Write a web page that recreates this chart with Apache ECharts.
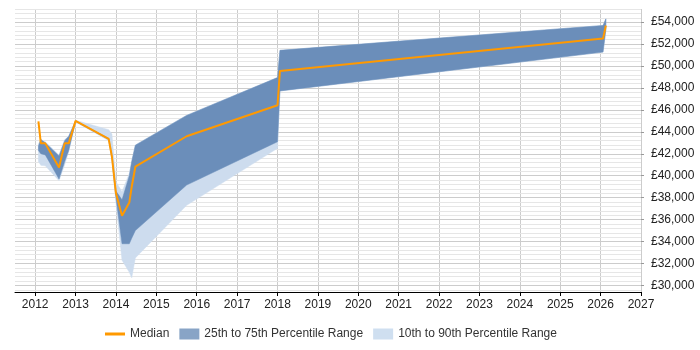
<!DOCTYPE html>
<html>
<head>
<meta charset="utf-8">
<script src="https://cdn.jsdelivr.net/npm/echarts@6.0.0/dist/echarts.min.js"></script>
<style>
  html, body { margin: 0; padding: 0; background: #fff; }
  #chart { width: 700px; height: 350px; }
</style>
</head>
<body>
<div id="chart"></div>
<script>
// decimal years of each sample
var years = [2012.08, 2012.14, 2012.25, 2012.59, 2012.73, 2012.83, 2013.0, 2013.82, 2013.9, 2014.0,
  2014.15, 2014.33, 2014.39, 2014.48, 2015.75, 2018.0, 2018.06, 2026.06, 2026.13];
var median = [44950, 42950, 42950, 40750, 42950, 42950, 45000, 43360, 41730, 38400,
  36350, 37550, 39000, 40820, 43600, 46430, 49550, 52500, 53700];
var p25 = [42300, 42000, 41900, 39700, 41300, 42300, 44950, 43300, 41600, 38000,
  33800, 33800, 34300, 35000, 39150, 43100, 47730, 51270, 53300];
var p75 = [42700, 43300, 43000, 41800, 43200, 43600, 45000, 43400, 41900, 38600,
  37800, 40000, 41300, 42790, 45500, 48950, 51430, 53700, 54300];
var p10 = [41300, 40950, 40900, 39550, 41000, 42200, 44900, 43200, 41500, 37500,
  32300, 31200, 30700, 32500, 37300, 42500, 47730, 51270, 53300];
var p90 = [42900, 43300, 43100, 41900, 43300, 43600, 45050, 44200, 43800, 39450,
  38550, 40200, 41300, 42790, 45500, 48950, 51430, 53700, 54300];

var yearTicks = [2012, 2013, 2014, 2015, 2016, 2017, 2018, 2019, 2020, 2021, 2022, 2023, 2024, 2025, 2026, 2027];
var salaryTicks = [30000, 32000, 34000, 36000, 38000, 40000, 42000, 44000, 46000, 48000, 50000, 52000, 54000];
var minorTicks = [];
for (var v = 29600; v <= 55200; v += 400) {
  if (v % 2000 !== 0) minorTicks.push(v);
}

var font = '"Liberation Sans", Arial, sans-serif';
var orange = '#ff9900';
var dark = '#6b8eba';
var light = '#cddcee';

function money(v) {
  return '£' + String(v).replace(/\B(?=(\d{3})+(?!\d))/g, ',');
}

function band(name, lo, hi, color) {
  return {
    name: name,
    type: 'custom',
    silent: true,
    clip: true,
    itemStyle: { color: color },
    data: years.map(function(x, i) { return [x, lo[i], hi[i]]; }),
    encode: { x: 0, y: [1, 2] },
    renderItem: function(params, api) {
      if (params.dataIndex !== 0) return null;
      var top = years.map(function(x, i) { return api.coord([x, hi[i]]); });
      var bottom = years.map(function(x, i) { return api.coord([x, lo[i]]); }).reverse();
      return {
        type: 'polygon',
        shape: { points: top.concat(bottom) },
        style: { fill: color, stroke: color, lineWidth: 0.5 }
      };
    }
  };
}

var chart = echarts.init(document.getElementById('chart'), null, { renderer: 'canvas' });
chart.setOption({
  animation: false,
  textStyle: { fontFamily: font },
  grid: { left: 15, right: 59, top: 9, bottom: 58 },
  legend: {
    left: 100,
    top: 323,
    itemWidth: 20,
    itemHeight: 11,
    itemGap: 10,
    textStyle: { fontFamily: font, fontSize: 12, color: '#333' },
    data: [
      { name: 'Median', icon: 'path://M0,0L20,0L20,3L0,3Z', itemStyle: { color: orange } },
      { name: '25th to 75th Percentile Range', icon: 'rect', itemStyle: { color: '#88a4c6' } },
      { name: '10th to 90th Percentile Range', icon: 'rect', itemStyle: { color: '#cfdff0' } }
    ]
  },
  xAxis: {
    type: 'value',
    min: 2011.5,
    max: 2027,
    axisLine: { lineStyle: { color: '#000', width: 1 } },
    axisTick: { customValues: yearTicks, length: 4, lineStyle: { color: '#000' } },
    axisLabel: {
      customValues: yearTicks,
      margin: 7,
      fontSize: 12,
      color: '#222',
      fontFamily: font,
      formatter: function(v) { return String(v); }
    },
    splitLine: { show: true, lineStyle: { color: '#cccccc' } }
  },
  yAxis: [
    {
      type: 'value',
      position: 'right',
      min: 29400,
      max: 55200,
      axisLine: { show: false },
      axisTick: { show: true, customValues: salaryTicks, length: 3, lineStyle: { color: '#999' } },
      axisLabel: {
        customValues: salaryTicks,
        margin: 10,
        fontSize: 12,
        color: '#222',
        fontFamily: font,
        formatter: money
      },
      splitLine: { show: true, lineStyle: { color: '#cccccc' } },
      z: 2
    },
    {
      type: 'value',
      position: 'right',
      min: 29400,
      max: 55200,
      axisLine: { show: false },
      axisTick: { show: false, customValues: minorTicks },
      axisLabel: { show: false },
      splitLine: { show: true, lineStyle: { color: '#e6e6e6' } },
      z: 1
    }
  ],
  series: [
    band('10th to 90th Percentile Range', p10, p90, light),
    band('25th to 75th Percentile Range', p25, p75, dark),
    {
      name: 'Median',
      type: 'line',
      data: years.map(function(x, i) { return [x, median[i]]; }),
      symbol: 'none',
      itemStyle: { color: orange },
      lineStyle: { color: orange, width: 2 },
      z: 3
    }
  ]
});
</script>
</body>
</html>
